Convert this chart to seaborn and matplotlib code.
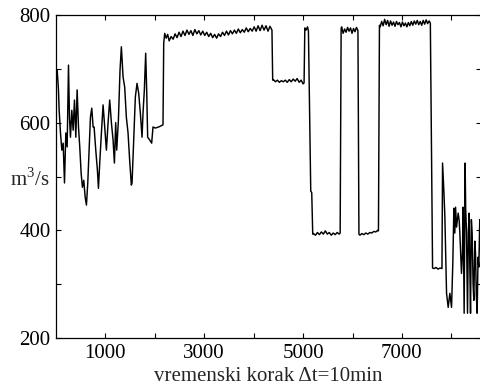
import matplotlib
matplotlib.use("Agg")
import matplotlib.pyplot as plt
import pandas as pd
import seaborn as sns

# flow readings (time step, m3/s)
steps_start = [3, 24, 50, 64, 91, 118, 145, 172, 199, 226, 253, 273, 293, 320, 347, 374, 401, 428,
               455, 481, 509, 535, 562, 590, 616, 643, 670, 697, 724, 751, 771, 805, 838, 859, 885,
               919, 953, 986, 1020, 1054, 1087, 1121, 1155, 1182, 1208, 1229, 1263, 1296, 1323, 1357,
               1390, 1424, 1458, 1491, 1525, 1539, 1572, 1606, 1640, 1673, 1707, 1741, 1761, 1788,
               1815, 1835, 1855, 1895, 1936, 1963, 2010, 2077, 2165]
flow_start = [685, 698, 661, 623, 581, 549, 562, 488, 581, 555, 707, 610, 573, 623, 586, 642, 573, 661,
              592, 555, 506, 480, 493, 462, 447, 488, 549, 610, 627, 592, 592, 549, 512, 478, 525,
              581, 633, 592, 549, 600, 642, 600, 568, 525, 600, 549, 605, 698, 741, 685,
              666, 610, 581, 530, 484, 488, 568, 648, 673, 655, 618, 573, 618, 661,
              729, 661, 573, 568, 562, 592, 590, 592, 596]

steps_high1 = [2180, 2200, 2230, 2260, 2290, 2330, 2370, 2410, 2450, 2490, 2530, 2570, 2610, 2650, 2690,
               2730, 2770, 2810, 2850, 2890, 2930, 2970, 3010, 3050, 3090, 3130, 3170, 3210, 3250,
               3290, 3330, 3370, 3410, 3450, 3490, 3530, 3570, 3610, 3650, 3690, 3730, 3770, 3810,
               3850, 3890, 3930, 3970, 4010, 4050, 4090, 4130, 4170, 4210, 4250, 4290, 4330, 4370]
flow_high1 = [748, 766, 757, 764, 752, 760, 755, 765, 758, 768, 760, 770, 762, 772, 764,
              771, 762, 773, 765, 771, 763, 770, 762, 768, 760, 766, 758, 764, 757,
              765, 760, 768, 762, 770, 763, 771, 765, 772, 766, 774, 767, 773, 768,
              776, 769, 775, 770, 778, 770, 780, 771, 781, 772, 780, 770, 779, 772]

steps_mid = [4385, 4400, 4440, 4480, 4520, 4560, 4600, 4640, 4680, 4720, 4760, 4800, 4840, 4880,
             4920, 4960, 5000, 5020]
flow_mid = [679, 680, 676, 679, 675, 678, 676, 679, 675, 680, 676, 681, 677, 682, 675, 679, 672, 674]

steps_spike = [5035, 5060, 5090, 5108, 5155, 5175, 5195]
flow_spike = [776, 772, 778, 770, 473, 470, 393]

steps_low1 = [5210, 5250, 5290, 5330, 5370, 5410, 5450, 5490, 5530, 5570, 5610, 5650, 5690, 5730, 5750]
flow_low1 = [394, 391, 396, 392, 397, 393, 399, 393, 396, 391, 395, 392, 396, 393, 395]

steps_high2 = [5770, 5780, 5810, 5840, 5870, 5900, 5930, 5960, 5990, 6020, 6050, 6080, 6110]
flow_high2 = [775, 778, 766, 774, 768, 777, 770, 776, 766, 775, 769, 777, 771]

steps_low2 = [6130, 6150, 6190, 6230, 6270, 6310, 6350, 6390, 6430, 6470, 6510, 6525]
flow_low2 = [393, 391, 394, 392, 395, 393, 396, 395, 398, 397, 400, 399]

steps_high3 = [6545, 6560, 6590, 6620, 6650, 6680, 6710, 6740, 6770, 6800, 6830, 6860, 6890, 6920,
               6950, 6980, 7010, 7040, 7070, 7100, 7130, 7160, 7190, 7220, 7250, 7280, 7310, 7340,
               7370, 7400, 7430, 7460, 7490, 7520, 7550, 7575]
flow_high3 = [781, 778, 788, 780, 792, 782, 790, 779, 789, 781, 787, 779, 788, 782,
              786, 778, 787, 780, 785, 778, 786, 780, 788, 781, 789, 783, 790, 782,
              788, 781, 790, 783, 791, 784, 789, 785]

steps_end = [7620, 7650, 7690, 7730, 7770, 7810, 7822, 7850, 7869, 7903, 7936, 7970, 8004, 8030,
             8051, 8070, 8085, 8105, 8138, 8158, 8172, 8205, 8225, 8239, 8259, 8279, 8290, 8307,
             8327, 8345, 8360, 8374, 8388, 8405, 8421, 8440, 8455, 8475, 8489, 8505, 8522, 8540,
             8556, 8575, 8590, 8600]
flow_end = [330, 329, 331, 328, 330, 329, 525, 470, 425, 283, 257, 283, 257, 340,
            441, 395, 443, 406, 432, 419, 395, 320, 358, 443, 246, 525, 440, 395,
            246, 400, 432, 330, 246, 420, 395, 300, 270, 380, 358, 280, 246, 350,
            332, 420, 387, 300]

x_ticks = [1000, 2000, 3000, 4000, 5000, 6000, 7000, 8000]
x_labels = ["1000", "", "3000", "", "5000", "", "7000", ""]
y_ticks = [200, 300, 400, 500, 600, 700, 800]
y_labels = ["200", "", "400", "", "600", "", "800"]

df = pd.DataFrame({
    "step": steps_start + steps_high1 + steps_mid + steps_spike + steps_low1 + steps_high2
            + steps_low2 + steps_high3 + steps_end,
    "flow": flow_start + flow_high1 + flow_mid + flow_spike + flow_low1 + flow_high2
            + flow_low2 + flow_high3 + flow_end,
})

sns.set_style("ticks")
plt.rcParams["font.family"] = ["Liberation Serif", "DejaVu Serif"]
plt.rcParams["mathtext.fontset"] = "custom"
plt.rcParams["mathtext.rm"] = "Liberation Serif"

fig = plt.figure(figsize=(4.81, 3.89), dpi=100)
ax = fig.add_axes([0.1164, 0.1311, 0.8836, 0.8303])

sns.lineplot(data=df, x="step", y="flow", color="black", linewidth=1.05,
             estimator=None, sort=False, ax=ax)

ax.set_xlim(0, 8600)
ax.set_ylim(200, 800)
ax.set_xticks(x_ticks)
ax.set_xticklabels(x_labels)
ax.set_yticks(y_ticks)
ax.set_yticklabels(y_labels)
ax.tick_params(direction="in", top=True, right=True, length=3.5, width=0.8,
               labelsize=15, pad=4, colors="black")
for s in ax.spines.values():
    s.set_linewidth(0.9)
    s.set_color("black")

ax.set_xlabel("vremenski korak \u0394t=10min", fontsize=15, labelpad=3)
ax.set_ylabel("")
fig.text(30 / 481, 1 - 180 / 389, "m$^3$/s", fontsize=15, ha="center", va="center")

fig.savefig("out.png", dpi=100)
